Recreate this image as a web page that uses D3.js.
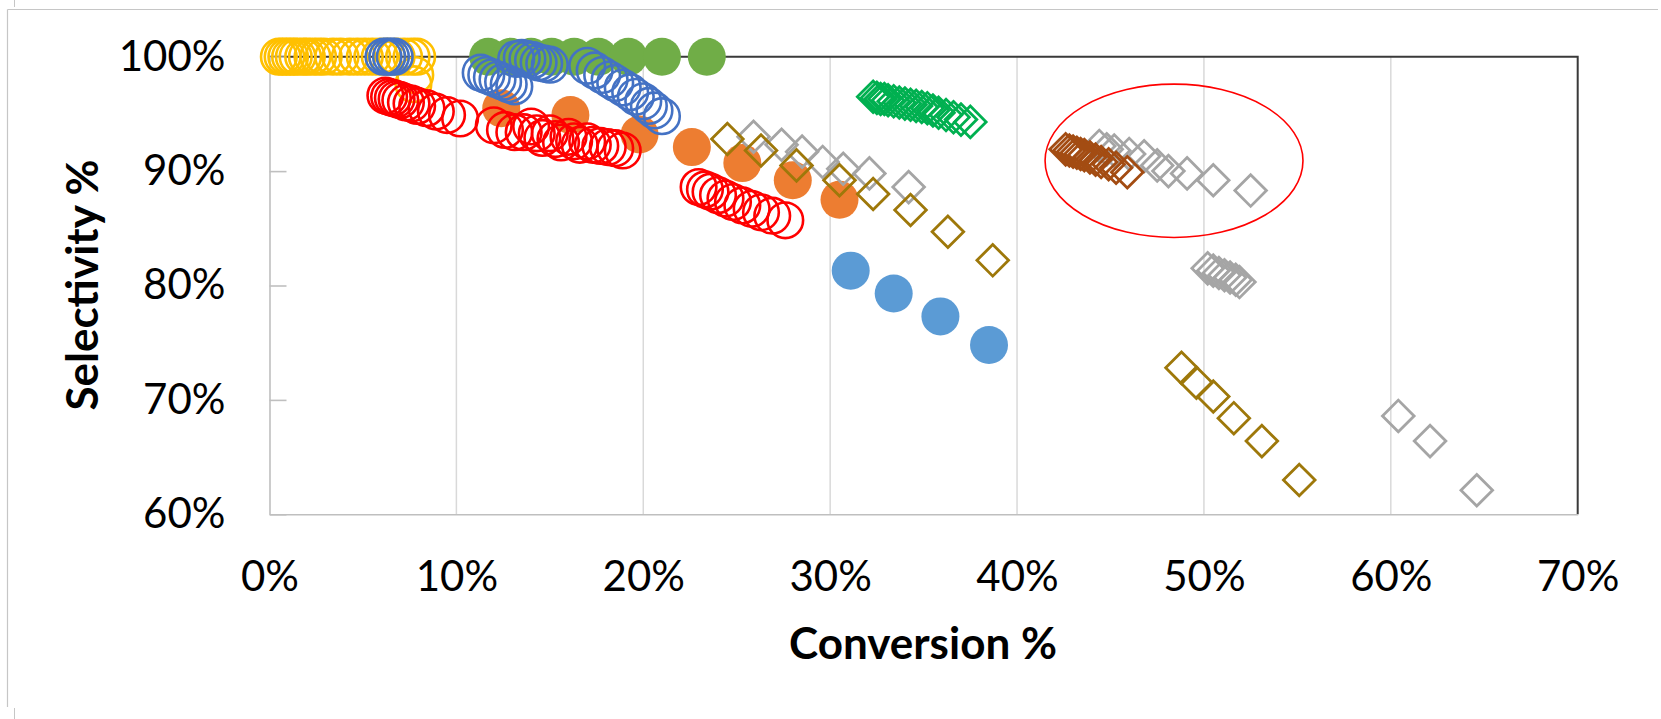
<!DOCTYPE html>
<html>
<head>
<meta charset="utf-8">
<script src="https://cdn.jsdelivr.net/npm/d3@7"></script>
<style>
  html, body { margin: 0; padding: 0; background: #fff; }
  svg { display: block; }
  text { font-family: Lato, "Open Sans", sans-serif; fill: #000; }
</style>
</head>
<body>
<svg id="chart" width="1661" height="719"></svg>
<script>
// Conversion (%) vs. selectivity (%) for each catalyst run, as [conversion, selectivity]
const yellowRing = [[0.5,100],[0.7,100],[0.9,100],[1.1,100],[1.3,100],[1.5,100],[1.8,100],[2.0,100],[2.3,100],[2.6,100],[2.9,100],[3.4,100],[3.8,100],[4.3,100],[4.7,100],[5.1,100],[5.5,100],[5.9,100],[6.3,100],[6.8,100],[7.2,100],[7.6,100],[7.9,100],[7.8,98.4],[7.7,97.6]];
const orangeDot = [[12.4,95.5],[16.1,94.9],[19.8,93.2],[22.6,92.1],[25.3,90.7],[28.0,89.2],[30.5,87.5]];
const greenDot = [[11.7,100],[12.9,100],[14.0,100],[15.1,100],[16.3,100],[17.6,100],[19.2,100],[21.0,100],[23.4,100]];
const redRing = [[6.2,96.6],[6.4,96.5],[6.6,96.4],[6.8,96.3],[7.0,96.2],[7.3,96.0],[7.6,95.9],[7.9,95.7],[8.4,95.5],[8.9,95.2],[9.5,94.9],[10.2,94.6],
  [12.0,94.0],[12.6,93.6],[13.1,93.4],[13.6,93.4],[14.0,93.9],[14.3,93.3],[14.6,92.9],[15.0,93.3],[15.3,92.8],[15.6,92.5],[16.0,93.0],[16.3,92.6],[16.6,92.3],[17.0,92.6],[17.3,92.3],[17.7,92.2],[18.1,92.1],[18.5,92.0],[18.9,91.8],
  [22.96,88.6],[23.3,88.4],[23.6,88.2],[24.0,87.9],[24.4,87.6],[24.8,87.3],[25.3,87.0],[25.8,86.7],[26.3,86.4],[26.9,86.1],[27.6,85.7]];
const blueRing = [[6.1,100],[6.3,100],[6.5,100],[6.7,100],
  [11.3,98.6],[11.6,98.4],[11.9,98.2],[12.2,98.0],[12.5,97.8],[12.8,97.6],[13.1,97.4],
  [13.2,99.8],[13.5,99.9],[13.8,99.8],[14.1,99.7],[14.4,99.5],[14.7,99.4],[15.0,99.3],
  [17.0,99.2],[17.4,98.8],[17.8,98.4],[18.2,98.0],[18.5,97.7],[18.9,97.3],[19.3,96.9],[19.6,96.5],[20.0,96.1],[20.3,95.7],[20.6,95.3],[21.0,94.8]];
const skyDot = [[31.1,81.3],[33.4,79.3],[35.9,77.3],[38.5,74.8]];
const grayDiamond = [[25.9,93.0],[27.4,92.3],[28.5,91.7],[29.6,90.8],[30.7,90.2],[32.1,89.8],[34.2,88.6],
  [44.4,92.2],[44.8,91.9],[45.2,91.8],[46.0,91.5],[46.8,91.3],[47.5,90.5],[48.1,90.0],[49.1,89.8],[50.5,89.2],[52.5,88.3],
  [50.2,81.5],[50.5,81.3],[50.8,81.1],[51.1,80.9],[51.4,80.7],[51.7,80.5],[51.9,80.3],
  [60.4,68.6],[62.1,66.4],[64.6,62.1]];
const goldDiamond = [[24.5,92.8],[26.3,91.8],[28.2,90.5],[30.5,89.2],[32.3,88.0],[34.3,86.6],[36.3,84.7],[38.7,82.2],
  [48.8,72.8],[49.6,71.5],[50.5,70.3],[51.6,68.4],[53.1,66.4],[55.1,63.0]];
const greenDiamond = [[32.3,96.5],[32.5,96.4],[32.7,96.3],[32.9,96.3],[33.1,96.2],[33.4,96.1],[33.7,96.0],[34.0,95.9],[34.3,95.8],[34.6,95.7],[34.9,95.6],[35.2,95.5],[35.5,95.3],[35.8,95.1],[36.2,94.9],[36.6,94.7],[37.0,94.5],[37.5,94.3]];
const brownDiamond = [[42.6,91.9],[42.8,91.8],[43.0,91.7],[43.2,91.6],[43.4,91.5],[43.6,91.4],[43.9,91.2],[44.2,91.0],[44.5,90.8],[44.9,90.6],[45.3,90.3],[45.9,89.9]];

// Highlighted region: centre and radii in data units
const highlight = { cx: 48.4, cy: 90.9, rx: 6.9, ry: 6.7 };

const xTicks = [0, 10, 20, 30, 40, 50, 60, 70];
const yTicks = [60, 70, 80, 90, 100];
const xTitle = "Conversion %";
const yTitle = "Selectivity %";

const svg = d3.select("#chart");
const plot = { left: 269.5, right: 1577.7, top: 56.7, bottom: 514.3 };

const x = d3.scaleLinear().domain([0, 70]).range([plot.left, plot.right]);
const y = d3.scaleLinear().domain([60, 100]).range([plot.bottom, plot.top]);

// Outer chart frame (partially visible)
svg.append("line").attr("x1", 7.5).attr("y1", 9.5).attr("x2", 1658).attr("y2", 9.5)
  .attr("stroke", "#c6c6c6").attr("stroke-width", 1.2);
svg.append("line").attr("x1", 7.5).attr("y1", 9.5).attr("x2", 7.5).attr("y2", 707)
  .attr("stroke", "#c6c6c6").attr("stroke-width", 1.2);
svg.append("line").attr("x1", 14.5).attr("y1", 0).attr("x2", 14.5).attr("y2", 7)
  .attr("stroke", "#c6c6c6").attr("stroke-width", 1);
svg.append("line").attr("x1", 14.5).attr("y1", 708).attr("x2", 14.5).attr("y2", 719)
  .attr("stroke", "#c6c6c6").attr("stroke-width", 1);

// Vertical gridlines
svg.append("g").selectAll("line")
  .data(xTicks.filter(t => t > 0 && t < 70))
  .join("line")
  .attr("x1", d => x(d)).attr("x2", d => x(d))
  .attr("y1", y(60)).attr("y2", y(100))
  .attr("stroke", "#d9d9d9").attr("stroke-width", 1.5);

// Plot-area border on top and right
svg.append("path")
  .attr("d", `M${x(0)},${y(100)}H${x(70)}V${y(60)}`)
  .attr("fill", "none").attr("stroke", "#3a3a3a").attr("stroke-width", 2);

// Axes
const pct = d => d + "%";
const yAxis = svg.append("g")
  .attr("transform", `translate(${x(0)},0)`)
  .call(d3.axisLeft(y).tickValues(yTicks).tickFormat(pct).tickSizeInner(-17).tickSizeOuter(0).tickPadding(44));
const xAxis = svg.append("g")
  .attr("transform", `translate(0,${y(60)})`)
  .call(d3.axisBottom(x).tickValues(xTicks).tickFormat(pct).tickSize(0).tickPadding(47));

[yAxis, xAxis].forEach(g => {
  g.select(".domain").attr("stroke", "#bfbfbf").attr("stroke-width", 1.6);
  g.selectAll(".tick line").attr("stroke", "#bfbfbf").attr("stroke-width", 1.6);
  g.selectAll(".tick text").style("font-family", "Lato, 'Open Sans', sans-serif")
    .style("font-size", "42px").attr("fill", "#000");
});

// Axis titles
svg.append("text")
  .attr("x", 923).attr("y", 659)
  .attr("text-anchor", "middle")
  .style("font-size", "44px").style("font-weight", "bold")
  .text(xTitle);
svg.append("text")
  .attr("transform", "translate(98,285) rotate(-90)")
  .attr("text-anchor", "middle")
  .style("font-size", "44px").style("font-weight", "bold")
  .text(yTitle);

// Markers
const marks = svg.append("g");
function rings(data, color) {
  marks.append("g").selectAll("circle").data(data).join("circle")
    .attr("cx", d => x(d[0])).attr("cy", d => y(d[1])).attr("r", 17.8)
    .attr("fill", "none").attr("stroke", color).attr("stroke-width", 2.6);
}
function dots(data, color) {
  marks.append("g").selectAll("circle").data(data).join("circle")
    .attr("cx", d => x(d[0])).attr("cy", d => y(d[1])).attr("r", 19)
    .attr("fill", color);
}
const diamondPath = d3.symbol(d3.symbolSquare, 500)();
function diamonds(data, color) {
  marks.append("g").selectAll("path").data(data).join("path")
    .attr("d", diamondPath)
    .attr("transform", d => `translate(${x(d[0])},${y(d[1])}) rotate(45)`)
    .attr("fill", "none").attr("stroke", color).attr("stroke-width", 2.8);
}

dots(orangeDot, "#ED7D31");
dots(greenDot, "#70AD47");
rings(yellowRing, "#FFC000");
rings(redRing, "#FF0000");
rings(blueRing, "#4472C4");
dots(skyDot, "#5B9BD5");
diamonds(grayDiamond, "#A5A5A5");
diamonds(goldDiamond, "#9E780A");
diamonds(greenDiamond, "#00B050");
diamonds(brownDiamond, "#A34C12");

// Highlight ellipse
svg.append("ellipse")
  .attr("cx", x(highlight.cx)).attr("cy", y(highlight.cy))
  .attr("rx", x(highlight.cx + highlight.rx) - x(highlight.cx))
  .attr("ry", y(highlight.cy - highlight.ry) - y(highlight.cy))
  .attr("fill", "none").attr("stroke", "#FF0000").attr("stroke-width", 1.6);
</script>
</body>
</html>
